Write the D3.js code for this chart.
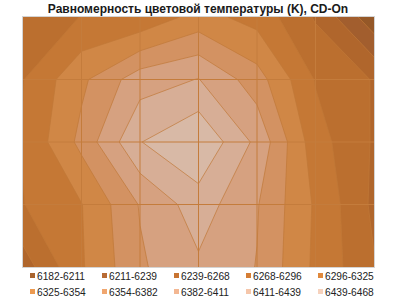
<!DOCTYPE html>
<html>
<head>
<meta charset="utf-8">
<script src="https://cdn.jsdelivr.net/npm/d3@7"></script>
<style>
  body { margin: 0; background: #fff; }
  svg { font-family: "Liberation Sans", Arial, sans-serif; }
</style>
</head>
<body>
<div id="chart"></div>
<script>
// colour temperature (K) measured on a 7 x 5 grid of the screen, top row first
const row1 = [6274, 6297, 6302, 6336, 6314, 6265, 6191];
const row2 = [6295, 6348, 6398, 6412, 6367, 6294, 6266];
const row3 = [6298, 6362, 6438, 6465, 6404, 6308, 6265];
const row4 = [6295, 6324, 6384, 6426, 6384, 6321, 6262];
const row5 = [6254, 6322, 6378, 6406, 6381, 6319, 6270];

// band limits and the legend texts
const bandBreaks = [6182, 6211, 6239, 6268, 6296, 6325, 6354, 6382, 6411, 6439, 6468];
const bandLabels = ['6182-6211', '6211-6239', '6239-6268', '6268-6296', '6296-6325',
  '6325-6354', '6354-6382', '6382-6411', '6411-6439', '6439-6468'];

const bandColors = ['#a9642e', '#b86b34', '#c87432', '#d57e35', '#e0893c',
  '#ec9a50', '#f0a66f', '#f3b792', '#f5c6aa', '#f6d2bd'];

const width = 400;
const height = 300;
const plot = { left: 23, top: 17, right: 374, bottom: 267 };

const svg = d3.select('#chart')
  .append('svg')
  .attr('width', width)
  .attr('height', height);

svg.append('text')
  .attr('x', 198)
  .attr('y', 12.5)
  .attr('text-anchor', 'middle')
  .style('font-size', '12px')
  .style('font-weight', 'bold')
  .style('fill', '#1a1a1a')
  .text('Равномерность цветовой температуры (K), CD-On');

const grid = [row1, row2, row3, row4, row5];
const nx = row1.length;
const ny = grid.length;
const values = grid.flat();

// grid node -> pixel
const x = d3.scaleLinear().domain([0, nx - 1]).range([plot.left, plot.right]);
const y = d3.scaleLinear().domain([0, ny - 1]).range([plot.top, plot.bottom]);

const contours = d3.contours()
  .size([nx, ny])
  .thresholds(bandBreaks.slice(0, -1))(values);

// d3.contours puts sample i at i + 0.5
const path = d3.geoPath(d3.geoTransform({
  point(px, py) {
    this.stream.point(x(px - 0.5), y(py - 0.5));
  }
}));

svg.append('clipPath')
  .attr('id', 'plot-clip')
  .append('rect')
  .attr('x', plot.left)
  .attr('y', plot.top)
  .attr('width', plot.right - plot.left)
  .attr('height', plot.bottom - plot.top);

const gPlot = svg.append('g').attr('clip-path', 'url(#plot-clip)');

gPlot.selectAll('path.band')
  .data(contours)
  .join('path')
  .attr('class', 'band')
  .attr('d', path)
  .attr('fill', (d, i) => d3.rgb(bandColors[i]).darker(0.36))
  .attr('stroke', '#c07838')
  .attr('stroke-width', 0.7);

// gridlines at the measuring points
gPlot.selectAll('line.vgrid')
  .data(d3.range(1, nx - 1))
  .join('line')
  .attr('class', 'vgrid')
  .attr('x1', d => x(d))
  .attr('x2', d => x(d))
  .attr('y1', plot.top)
  .attr('y2', plot.bottom)
  .attr('stroke', '#c47c3c')
  .attr('stroke-width', 1);

gPlot.selectAll('line.hgrid')
  .data(d3.range(1, ny - 1))
  .join('line')
  .attr('class', 'hgrid')
  .attr('x1', plot.left)
  .attr('x2', plot.right)
  .attr('y1', d => y(d))
  .attr('y2', d => y(d))
  .attr('stroke', '#c47c3c')
  .attr('stroke-width', 1);

svg.append('rect')
  .attr('x', plot.left - 0.5)
  .attr('y', plot.top - 0.5)
  .attr('width', plot.right - plot.left + 1)
  .attr('height', plot.bottom - plot.top + 1)
  .attr('fill', 'none')
  .attr('stroke', '#d4d4d4');

// legend, 5 per row
const legend = svg.append('g')
  .selectAll('g')
  .data(bandLabels)
  .join('g')
  .attr('transform', (d, i) => `translate(${30 + (i % 5) * 72},${276 + Math.floor(i / 5) * 16})`);

legend.append('rect')
  .attr('x', 0)
  .attr('y', -3)
  .attr('width', 5)
  .attr('height', 5)
  .attr('fill', (d, i) => bandColors[i]);

legend.append('text')
  .attr('x', 7)
  .attr('y', 3.5)
  .style('font-size', '10.2px')
  .style('fill', '#222')
  .text(d => d);
</script>
</body>
</html>
